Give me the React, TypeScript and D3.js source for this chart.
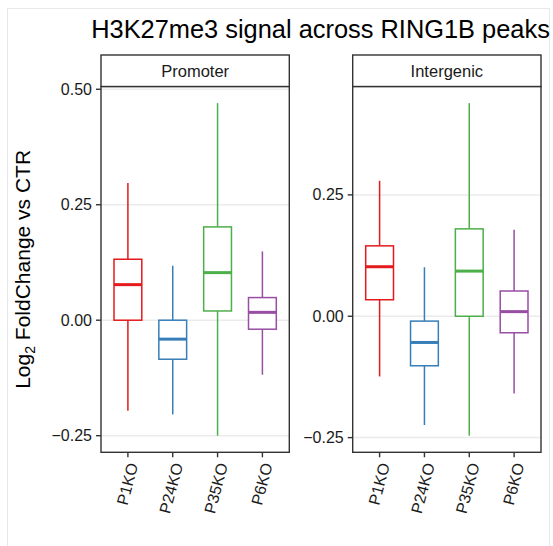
import React from "react";
import * as d3 from "d3";

// Sample groups shown on every facet
const categories = ["P1KO", "P24KO", "P35KO", "P6KO"];
const facets = ["Promoter", "Intergenic"];
const colors = ["#E41A1C", "#377EB8", "#4DAF4A", "#984EA3"];

// Box statistics per facet (lower whisker, Q1, median, Q3, upper whisker)
const promoterLow = [-0.196, -0.204, -0.25, -0.118];
const promoterQ1 = [0.0, -0.0845, 0.02, -0.0195];
const promoterMed = [0.077, -0.041, 0.103, 0.017];
const promoterQ3 = [0.132, 0.0, 0.202, 0.049];
const promoterHigh = [0.297, 0.118, 0.47, 0.149];

const intergenicLow = [-0.124, -0.224, -0.246, -0.159];
const intergenicQ1 = [0.034, -0.102, 0.0, -0.034];
const intergenicMed = [0.102, -0.054, 0.093, 0.0095];
const intergenicQ3 = [0.145, -0.01, 0.18, 0.052];
const intergenicHigh = [0.279, 0.101, 0.439, 0.178];

const promoterTicks = [-0.25, 0, 0.25, 0.5];
const intergenicTicks = [-0.25, 0, 0.25];

const W = 553;
const H = 546;
const FONT = "'Liberation Sans', Arial, Helvetica, sans-serif";

const panelLayout = [
  { x0: 101, x1: 289.3 },
  { x0: 352.7, x1: 541 },
];
const stripTop = 55;
const panelTop = 86.5;
const panelBottom = 452.3;

type Box = { cat: string; low: number; q1: number; med: number; q3: number; high: number; color: string };

function buildBoxes(low: number[], q1: number[], med: number[], q3: number[], high: number[]): Box[] {
  return categories.map((cat, i) => ({
    cat,
    low: low[i],
    q1: q1[i],
    med: med[i],
    q3: q3[i],
    high: high[i],
    color: colors[i],
  }));
}

const facetData = [
  { name: facets[0], boxes: buildBoxes(promoterLow, promoterQ1, promoterMed, promoterQ3, promoterHigh), ticks: promoterTicks },
  { name: facets[1], boxes: buildBoxes(intergenicLow, intergenicQ1, intergenicMed, intergenicQ3, intergenicHigh), ticks: intergenicTicks },
];

const fmt = d3.format(".2f");

function Facet({ idx }: { idx: number }) {
  const { name, boxes, ticks } = facetData[idx];
  const { x0, x1 } = panelLayout[idx];
  const lo = d3.min(boxes, (b) => b.low) as number;
  const hi = d3.max(boxes, (b) => b.high) as number;
  const pad = (hi - lo) * 0.05;
  const y = d3.scaleLinear().domain([lo - pad, hi + pad]).range([panelBottom, panelTop]);
  const x = d3.scalePoint<string>().domain(categories).range([x0, x1]).padding(0.6);
  const bw = x.step() * 0.62;

  return (
    <g>
      {/* horizontal grid */}
      {ticks.map((t) => (
        <line key={"g" + t} x1={x0} x2={x1} y1={y(t)} y2={y(t)} stroke="#ebebeb" strokeWidth={1.5} />
      ))}
      {/* boxes */}
      {boxes.map((b) => {
        const cx = x(b.cat) as number;
        return (
          <g key={b.cat} stroke={b.color} fill="none">
            <line x1={cx} x2={cx} y1={y(b.high)} y2={y(b.q3)} strokeWidth={1.5} />
            <line x1={cx} x2={cx} y1={y(b.q1)} y2={y(b.low)} strokeWidth={1.5} />
            <rect x={cx - bw / 2} y={y(b.q3)} width={bw} height={y(b.q1) - y(b.q3)} fill="white" strokeWidth={1.5} />
            <line x1={cx - bw / 2} x2={cx + bw / 2} y1={y(b.med)} y2={y(b.med)} strokeWidth={3} />
          </g>
        );
      })}
      {/* panel border */}
      <rect x={x0} y={panelTop} width={x1 - x0} height={panelBottom - panelTop} fill="none" stroke="#333" strokeWidth={1.4} />
      {/* strip */}
      <rect x={x0} y={stripTop} width={x1 - x0} height={panelTop - stripTop} fill="white" stroke="#333" strokeWidth={1.4} />
      <text x={(x0 + x1) / 2} y={(stripTop + panelTop) / 2} dy="0.35em" textAnchor="middle" fontSize={16.5} fontFamily={FONT} fill="#1a1a1a">
        {name}
      </text>
      {/* y axis */}
      {ticks.map((t) => (
        <g key={"t" + t}>
          <line x1={x0 - 5} x2={x0} y1={y(t)} y2={y(t)} stroke="#333" strokeWidth={1.4} />
          <text x={x0 - 9} y={y(t)} dy="0.35em" textAnchor="end" fontSize={16} fontFamily={FONT} fill="#1a1a1a">
            {fmt(t)}
          </text>
        </g>
      ))}
      {/* x axis */}
      {categories.map((c) => {
        const cx = x(c) as number;
        return (
          <g key={"x" + c}>
            <line x1={cx} x2={cx} y1={panelBottom} y2={panelBottom + 5} stroke="#333" strokeWidth={1.4} />
            <text
              transform={`translate(${cx + 5},${panelBottom + 11}) rotate(-75)`}
              textAnchor="end"
              dy="0.35em"
              fontSize={16}
              fontFamily={FONT}
              fill="#1a1a1a"
            >
              {c}
            </text>
          </g>
        );
      })}
    </g>
  );
}

export default function App() {
  return (
    <svg width={W} height={H} style={{ position: "absolute", left: 0, top: 0, background: "white" }}>
      <rect x={7.5} y={8.5} width={542} height={H} fill="white" stroke="#e8e8e8" strokeWidth={1} />
      <text x={320.5} y={38} textAnchor="middle" fontSize={25.4} fontFamily={FONT} fill="#000">
        H3K27me3 signal across RING1B peaks
      </text>
      <text transform={`translate(30,${(panelTop + panelBottom) / 2}) rotate(-90)`} textAnchor="middle" fontSize={21} fontFamily={FONT} fill="#000">
        Log<tspan fontSize={14} dy={5}>2</tspan>
        <tspan dy={-5}> FoldChange vs CTR</tspan>
      </text>
      <Facet idx={0} />
      <Facet idx={1} />
    </svg>
  );
}
